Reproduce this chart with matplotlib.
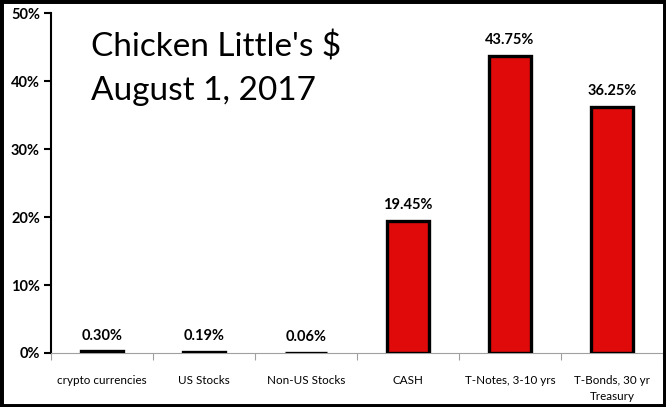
"""Chicken Little's $ allocation chart."""

import matplotlib.pyplot as plt
from matplotlib.patches import Rectangle
from matplotlib.ticker import FixedLocator, FuncFormatter

plt.rcParams["font.family"] = ["Lato", "DejaVu Sans"]

categories = ["crypto currencies", "US Stocks", "Non-US Stocks", "CASH",
              "T-Notes, 3-10 yrs", "T-Bonds, 30 yr\nTreasury"]
values = [0.30, 0.19, 0.06, 19.45, 43.75, 36.25]
value_labels = ["0.30%", "0.19%", "0.06%", "19.45%", "43.75%", "36.25%"]
y_ticks = [0, 10, 20, 30, 40, 50]

fig = plt.figure(figsize=(6.66, 4.07), dpi=100)
ax = fig.add_axes([0.0766, 0.1327, 0.919, 0.835])

x = range(len(categories))
ax.bar(x, values, width=0.42, color="#e00a0a", edgecolor="black", linewidth=2.4, zorder=3)
for xi, v, lab in zip(x, values, value_labels):
    ax.annotate(lab, (xi, v), xytext=(0, 6), textcoords="offset points",
                ha="center", va="bottom", fontsize=10.5, fontweight="bold")

ax.set_xlim(-0.5, len(categories) - 0.5)
ax.set_ylim(0, 50)
ax.set_yticks(y_ticks)
ax.yaxis.set_major_formatter(FuncFormatter(lambda v, _: f"{v:.0f}%"))
ax.tick_params(axis="y", direction="out", length=5, width=1.5, labelsize=10.5, pad=3)
for t in ax.get_yticklabels():
    t.set_fontweight("bold")

ax.set_xticks(list(x))
ax.set_xticklabels(categories, fontsize=8.4, linespacing=1.5)
ax.tick_params(axis="x", which="major", length=0, pad=16)
ax.xaxis.set_minor_locator(FixedLocator([i - 0.5 for i in range(len(categories) + 1)]))
ax.tick_params(axis="x", which="minor", length=5, color="#a0a0a0", width=0.8)

for side in ["top", "right"]:
    ax.spines[side].set_visible(False)
ax.spines["left"].set_linewidth(1.5)
ax.spines["bottom"].set_color("#a0a0a0")
ax.spines["bottom"].set_linewidth(0.8)

ax.text(0.065, 0.945, "Chicken Little's $\nAugust 1, 2017", transform=ax.transAxes,
        ha="left", va="top", fontsize=24, linespacing=1.55)

fig.patches.append(Rectangle((0, 0), 1, 1, transform=fig.transFigure, fill=False,
                             edgecolor="black", linewidth=5, zorder=10))

fig.savefig("out.png", dpi=100)
plt.close()
